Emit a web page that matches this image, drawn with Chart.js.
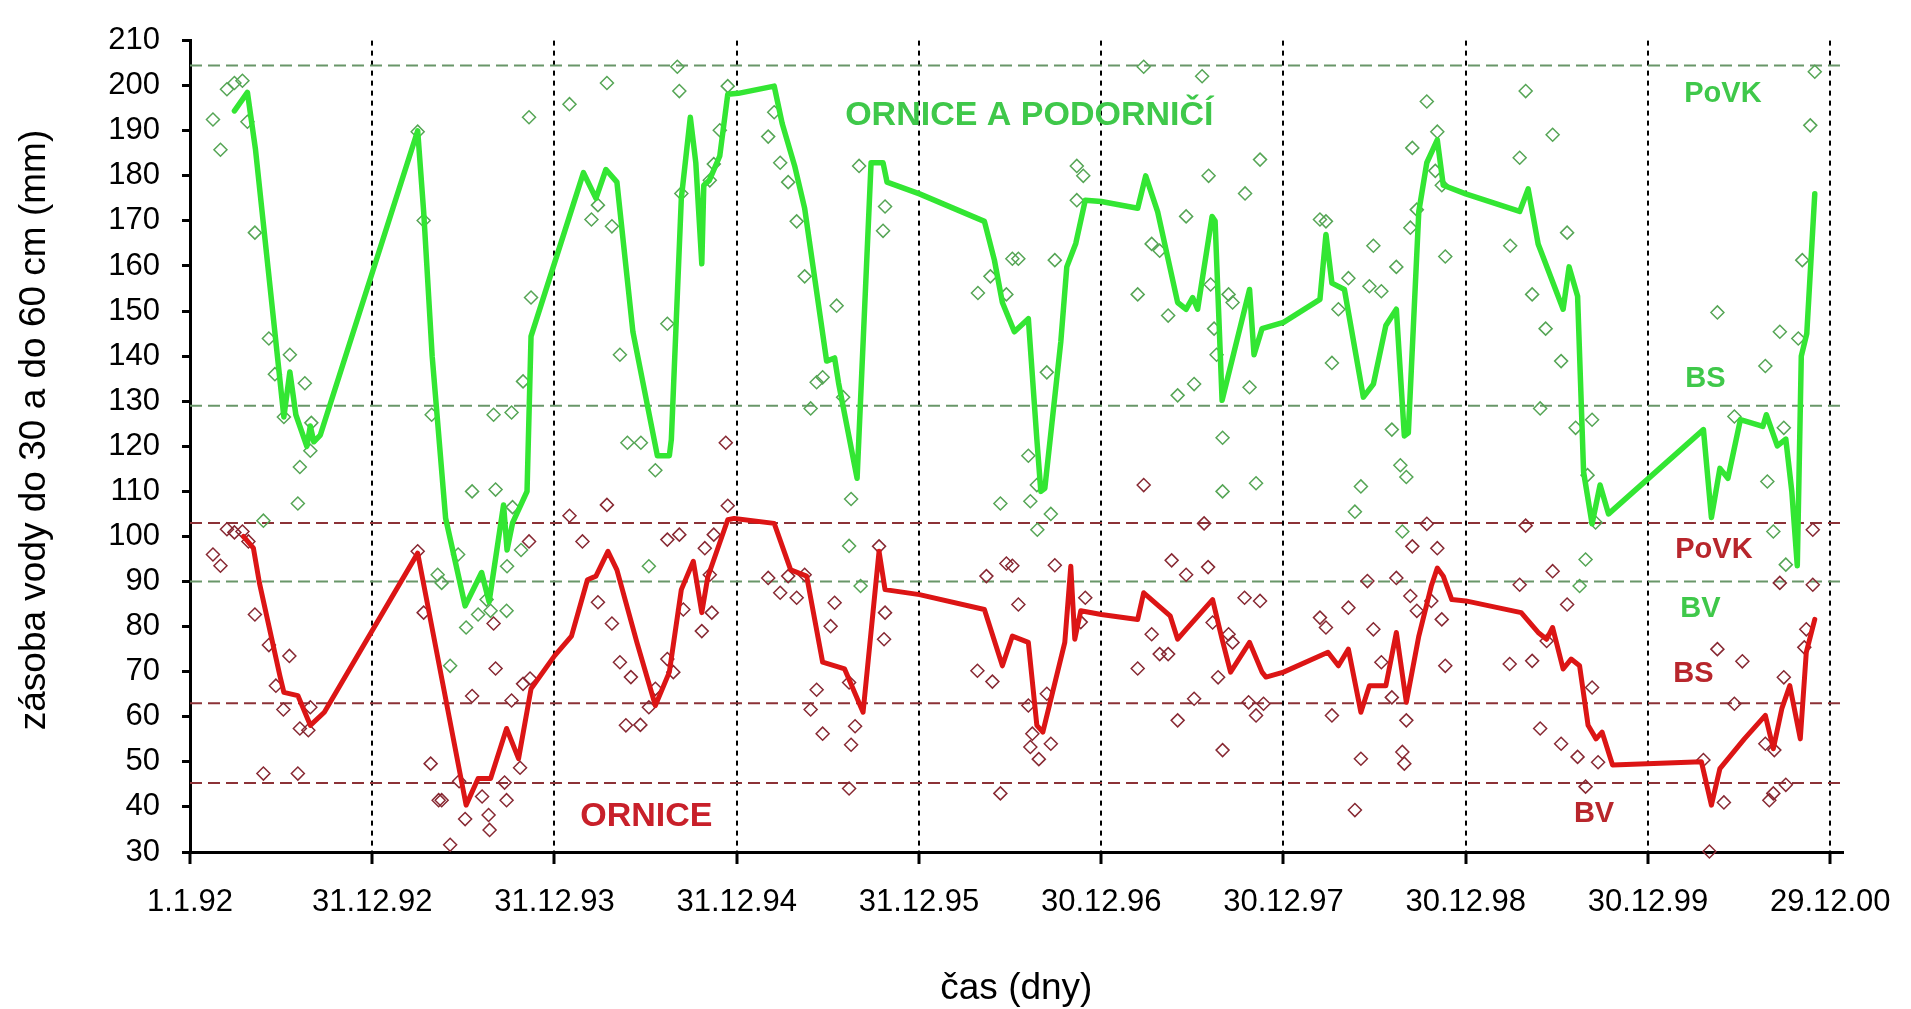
<!DOCTYPE html>
<html lang="cs">
<head>
<meta charset="utf-8">
<title>Zásoba vody v ornici a podorničí 1992–2000</title>
<script src="https://cdn.jsdelivr.net/npm/chart.js@4.4.1/dist/chart.umd.min.js"></script>
<style>
  html, body { margin: 0; padding: 0; background: #fff; overflow: hidden; }
  #wrap { width: 1911px; height: 1009px; }
</style>
</head>
<body>
<div id="wrap"><canvas id="chart" width="1911" height="1009"></canvas></div>
<script>
// Time axis: days counted from 1.1.1992
const tickDays   = [0, 365, 730, 1095, 1460, 1825, 2190, 2555, 2920, 3285];
const tickLabels = ['1.1.92', '31.12.92', '31.12.93', '31.12.94', '31.12.95',
                    '30.12.96', '30.12.97', '30.12.98', '30.12.99', '29.12.00'];

// Modelled water storage, topsoil + subsoil (0–60 cm)
const greenLineDays = [
  89, 115, 131, 188, 200, 212, 234, 241, 248, 261,
  456, 468, 485, 512, 551, 584, 599, 628, 635, 646, 675, 683,
  788, 813, 833, 855, 887, 936, 960, 964, 984, 1002, 1013, 1025, 1029, 1040, 1061, 1077,
  1098, 1170, 1186, 1211, 1231, 1275, 1291, 1299, 1336, 1364, 1388, 1396,
  1461, 1591, 1611, 1627, 1651, 1679, 1696, 1704, 1712, 1744, 1756, 1774, 1793,
  1825, 1898, 1914, 1938, 1978, 1995, 2008, 2018, 2047, 2053, 2067, 2122, 2131, 2147,
  2190, 2263, 2275, 2287, 2312, 2350, 2370, 2395, 2416, 2432, 2440, 2461, 2477, 2498, 2510,
  2555, 2663, 2680, 2700, 2750, 2762, 2779, 2791, 2808, 2824, 2841,
  3031, 3047, 3064, 3080, 3105, 3150, 3157, 3179, 3196, 3208, 3219, 3227, 3238, 3254
];
const greenLineValues = [
  194.4, 198.5, 186, 126.5, 136.5, 127, 120, 124.5, 121, 122.5,
  190, 172, 140, 104, 84.6, 92, 85.5, 107, 97, 103, 110, 144.4,
  180.7, 175, 181.4, 178.6, 145.4, 117.9, 117.9, 121.5, 175, 193, 182.9, 160.5, 177.9, 179, 184.4, 198.1,
  198.3, 199.9, 191.6, 182.2, 172.8, 138.9, 139.6, 134, 112.9, 182.9, 182.9, 178.6,
  176, 169.9, 161.3, 151.9, 145.4, 148.3, 121.6, 110, 110.7, 143.2, 159.8, 165, 174.6,
  174.3, 172.8, 180, 172, 151.9, 150.4, 153, 150.4, 171, 170, 130.2, 154.8, 140.3, 146.1,
  147.5, 152.6, 167, 156.2, 154.8, 130.9, 133.8, 146.8, 150.4, 122.3, 123, 172.1, 182.9, 188, 177.9,
  176, 172.1, 177.1, 164.9, 150.4, 159.8, 153.3, 114.3, 102.8, 111.4, 105,
  123.7, 104.2, 115.1, 112.9, 125.9, 124.4, 127, 120.1, 121.6, 110, 93.5, 140, 145, 176
];

// Modelled water storage, topsoil only (0–30 cm)
const redLineDays = [
  107, 127, 139, 180, 188, 216, 241, 269,
  456, 553, 577, 602, 634, 658, 683,
  730, 764, 796, 813, 837, 855, 895, 932, 960, 984, 1008, 1025, 1037, 1077, 1090,
  1170, 1203, 1235, 1267, 1311, 1348, 1380, 1392,
  1461, 1591, 1627, 1647, 1679, 1696, 1708, 1752, 1764, 1772, 1784,
  1825, 1898, 1910, 1963, 1978, 1995, 2048, 2067, 2084, 2122, 2147, 2155,
  2190, 2279, 2300, 2320, 2345, 2362, 2395, 2416, 2436, 2461, 2486, 2498, 2510, 2527,
  2555, 2666, 2700, 2717, 2729, 2750, 2766, 2783, 2800, 2816, 2828, 2849,
  3027, 3047, 3064, 3113, 3155, 3171, 3188, 3204, 3225, 3237, 3254
];
const redLineValues = [
  100, 97.4, 89.7, 69.1, 65.4, 64.7, 58.1, 61,
  96.3, 40.4, 46.3, 46.3, 57.4, 50.7, 66.2,
  73.5, 77.9, 90.4, 91.2, 96.7, 92.6, 76.5, 62.5, 69.9, 88.2, 94.5, 83.1, 91, 103.7, 104,
  102.9, 92.6, 91.2, 72.1, 70.6, 61, 96.7, 88.2,
  87.1, 83.8, 71.3, 77.9, 76.5, 58.1, 56.6, 76.5, 93.4, 77.2, 83.5,
  82.7, 81.6, 87.5, 82.4, 77.2, 79.4, 86, 77.2, 69.9, 76.5, 69.9, 68.8,
  69.9, 74.3, 71.3, 75, 61, 66.9, 66.9, 78.7, 63.2, 77.9, 89, 93, 91.2, 86,
  85.7, 83.1, 78.7, 77.2, 79.8, 70.6, 72.8, 71.3, 58.1, 55.1, 56.6, 49.3,
  50, 40.4, 48.5, 55.1, 60.3, 52.9, 61.8, 66.9, 55.1, 74.3, 81.6
];

// Measured storage, 0–60 cm
const greenPointDays = [
  46, 61, 74, 89, 105, 115, 130, 147, 158, 170, 188, 200, 216, 220, 230, 241, 243,
  456, 468, 484, 496, 504, 521, 537, 553, 565, 577, 594, 602, 608, 612, 634, 635, 644, 646, 663, 667, 679, 683,
  760, 804, 817, 835, 845, 861, 876, 903, 919, 932, 956, 976, 980, 984, 1041, 1049, 1061, 1077,
  1158, 1170, 1182, 1198, 1215, 1231, 1243, 1255, 1267, 1295, 1308, 1320, 1324, 1340, 1343, 1388, 1392,
  1578, 1603, 1623, 1635, 1647, 1659, 1679, 1683, 1696, 1697, 1716, 1724, 1732, 1776, 1776, 1789,
  1898, 1910, 1926, 1942, 1959, 1978, 1995, 2011, 2027, 2040, 2044, 2051, 2056, 2068, 2068, 2080, 2088, 2113,
  2122, 2135, 2143, 2263, 2275, 2287, 2300, 2320, 2333, 2345, 2362, 2370, 2386, 2407, 2416, 2424, 2428,
  2436, 2444, 2448, 2457, 2477, 2494, 2498, 2507, 2514,
  2644, 2663, 2675, 2688, 2704, 2715, 2729, 2746, 2758, 2775, 2783, 2795, 2799, 2808, 2815,
  3059, 3093, 3155, 3159, 3171, 3184, 3192, 3196, 3221, 3229, 3245, 3254
];
const greenPointValues = [
  192.5, 185.8, 199.2, 200.6, 201.1, 192, 167.4, 103.5, 143.9, 136, 126.5, 140.3, 107.3, 115.4, 134, 119, 125.2,
  189.8, 170.1, 127, 91.5, 89.7, 71.3, 96, 79.8, 110, 82.7, 86, 83.5, 127, 110.4, 83.5, 93.4, 127.5, 106.5, 97, 134.4, 193, 153,
  195.9, 170.3, 173.5, 200.6, 168.8, 140.3, 120.8, 120.8, 93.4, 114.7, 147.2, 204.2, 198.8, 176.1, 179, 182.6, 190.1, 199.9,
  188.7, 194.1, 182.9, 178.6, 169.9, 157.7, 128.4, 134.2, 135.3, 151.2, 130.9, 97.9, 108.3, 182.2, 89, 167.8, 173.2,
  154, 157.7, 107.3, 153.7, 161.6, 161.6, 117.9, 107.8, 111.4, 101.5, 136.4, 105, 161.3, 182.2, 174.6, 180,
  153.7, 204.2, 164.9, 163.4, 149, 131.3, 171, 133.8, 202.1, 180, 155.9, 146.1, 140.3, 121.9, 110, 153.7, 151.9, 176.1,
  133.1, 111.8, 183.6, 170.3, 169.9, 138.5, 150.4, 157.3, 105.5, 111.1, 155.5, 164.5, 154.4, 123.7, 159.8, 115.8, 101.1,
  113.2, 168.5, 186.2, 172.5, 196.5, 181.1, 189.8, 177.9, 162.1,
  164.5, 184, 198.8, 153.7, 128.4, 146.1, 189.1, 138.9, 167.4, 124.1, 89, 94.9, 113.6, 125.9, 103.1,
  149.7, 126.6, 137.8, 112.2, 101.1, 145.4, 124.1, 93.75, 143.9, 161.3, 191.2, 203.1
];

// Measured storage, 0–30 cm
const redPointDays = [
  46, 61, 74, 89, 105, 117, 130, 147, 158, 172, 187, 199, 216, 220, 237, 241,
  456, 468, 482, 498, 504, 521, 539, 551, 565, 585, 598, 600, 608, 612, 630, 634, 644, 661, 667, 679, 681,
  760, 786, 817, 835, 845, 861, 873, 883, 902, 919, 932, 956, 956, 968, 980, 988, 1025, 1031, 1041, 1045, 1049, 1073, 1077,
  1158, 1182, 1198, 1215, 1231, 1243, 1255, 1267, 1283, 1291, 1320, 1320, 1324, 1332, 1380, 1390, 1392,
  1577, 1595, 1607, 1623, 1635, 1647, 1659, 1679, 1683, 1687, 1700, 1716, 1724, 1732, 1784, 1793,
  1898, 1910, 1926, 1942, 1959, 1966, 1978, 1995, 2011, 2031, 2039, 2048, 2059, 2068, 2080, 2088, 2112, 2120,
  2135, 2143, 2150, 2263, 2275, 2287, 2320, 2333, 2345, 2358, 2370, 2386, 2407, 2416, 2428, 2432, 2436,
  2444, 2448, 2457, 2477, 2486, 2498, 2507, 2514,
  2643, 2663, 2675, 2688, 2704, 2717, 2729, 2746, 2758, 2779, 2795, 2808, 2820,
  3031, 3043, 3059, 3072, 3093, 3109, 3155, 3163, 3171, 3173, 3184, 3192, 3196, 3233, 3237, 3250, 3250
];
const redPointValues = [
  96, 93.5, 101.6, 100.9, 101.1, 98.9, 82.7, 47.4, 75.9, 66.9, 61.6, 73.5, 47.4, 57.4, 57, 62.1,
  96.7, 83.1, 49.6, 41.5, 41.5, 31.6, 45.7, 37.3, 64.6, 42.3, 38.2, 34.9, 80.7, 70.7, 45.4, 41.5, 63.6, 48.7, 67.3, 98.9, 68.5,
  104.6, 98.9, 85.4, 107, 80.7, 72.1, 58.1, 68.8, 58.2, 62.1, 66.2, 72.8, 99.3, 69.9, 100.4, 83.8, 79, 97.4, 91.5, 83.1, 100.4, 120.8, 106.8,
  90.8, 87.5, 91.2, 86.4, 91.5, 61.6, 66, 56.25, 80.1, 85.3, 67.6, 44.1, 53.8, 57.9, 97.8, 77.2, 83.1,
  70.2, 91.2, 67.8, 43, 94, 93.5, 84.9, 62.5, 53.3, 56.25, 50.6, 65.1, 54, 93.6, 81, 86.4,
  70.7, 111.4, 78.3, 73.9, 73.9, 94.7, 59.2, 91.5, 64, 102.9, 93.2, 80.9, 68.75, 52.6, 78.3, 76.5, 86.4, 63.2,
  60.3, 85.7, 62.9, 82, 79.8, 60.3, 84.2, 39.3, 50.7, 90.1, 79.4, 72.1, 64.3, 90.8, 52.2, 49.6, 59.2,
  86.8, 97.8, 83.5, 102.8, 85.7, 97.4, 81.6, 71.3,
  71.7, 89.3, 102.4, 72.4, 57.4, 76.8, 92.3, 54, 84.9, 51.1, 44.5, 66.5, 49.9,
  50.4, 30.1, 75, 41, 62.9, 72.3, 54, 41.5, 43, 52.6, 89.7, 68.75, 44.9, 75.4, 79.4, 89.3, 101.5
];

// Hydrolimits (mm): PoVK, BS, BV
const levelNames       = ['PoVK', 'BS', 'BV'];
const greenLevelValues = [204.5, 129, 90];
const redLevelValues   = [103, 63, 45.3];

const X_MIN = 0, X_MAX = 3310, Y_MIN = 30, Y_MAX = 210;

const GREEN_LINE = '#33e633';
const RED_LINE = '#dc1515';
const GREEN_MARK = 'rgb(85,165,85)';
const RED_MARK = 'rgb(135,40,50)';
const GREEN_LEVEL = 'rgb(105,150,105)';
const RED_LEVEL = 'rgb(140,50,55)';
const GREEN_TEXT = '#3fc84a';
const RED_TEXT = '#c8202a';
const FONT = '"Liberation Sans", Arial, Helvetica, sans-serif';

const pts = (xs, ys) => xs.map((d, i) => ({ x: d, y: ys[i] }));
const level = v => [{ x: X_MIN, y: v }, { x: X_MAX, y: v }];

// In-plot captions, anchored in data coordinates
const captions = [
  { text: 'ORNICE A PODORNIČÍ', day: 1681, value: 193.4, color: GREEN_TEXT, font: 'bold 34px ' + FONT },
  { text: 'ORNICE', day: 914, value: 37.9, color: RED_TEXT, font: 'bold 34px ' + FONT },
  { text: levelNames[0], day: 3070, value: 198.2, color: GREEN_TEXT, font: 'bold 29px ' + FONT },
  { text: levelNames[1], day: 3035, value: 135, color: GREEN_TEXT, font: 'bold 29px ' + FONT },
  { text: levelNames[2], day: 3025, value: 84, color: GREEN_TEXT, font: 'bold 29px ' + FONT },
  { text: levelNames[0], day: 3052, value: 96.9, color: '#b8262c', font: 'bold 29px ' + FONT },
  { text: levelNames[1], day: 3011, value: 69.4, color: '#b8262c', font: 'bold 29px ' + FONT },
  { text: levelNames[2], day: 2812, value: 38.5, color: '#b8262c', font: 'bold 29px ' + FONT }
];

const textPlugin = {
  id: 'plotTexts',
  afterDatasetsDraw(chart) {
    const { ctx, scales: { x, y }, chartArea } = chart;
    ctx.save();
    ctx.textAlign = 'center';
    ctx.textBaseline = 'middle';
    captions.forEach(c => {
      ctx.font = c.font;
      ctx.fillStyle = c.color;
      ctx.fillText(c.text, x.getPixelForValue(c.day), y.getPixelForValue(c.value));
    });
    // axis titles
    ctx.fillStyle = '#000';
    ctx.font = '37px ' + FONT;
    ctx.fillText('čas (dny)', (chartArea.left + chartArea.right) / 2, 989);
    ctx.translate(35, 430);
    ctx.rotate(-Math.PI / 2);
    ctx.fillText('zásoba vody do 30 a do 60 cm (mm)', 0, 0);
    ctx.restore();
  }
};

const lineStyle = (color, width) => ({
  borderColor: color, borderWidth: width, pointRadius: 0, tension: 0,
  borderJoinStyle: 'round', borderCapStyle: 'round', fill: false
});
const markStyle = color => ({
  showLine: false, pointStyle: 'rectRot', pointRadius: 6.5, pointBorderWidth: 1.5,
  pointBorderColor: color, pointBackgroundColor: 'rgba(0,0,0,0)', clip: false
});
const levelStyle = color => ({
  borderColor: color, borderWidth: 2, borderDash: [12, 6], pointRadius: 0, fill: false
});

new Chart(document.getElementById('chart'), {
  type: 'line',
  data: {
    datasets: [
      { label: 'ornice', data: pts(redLineDays, redLineValues), ...lineStyle(RED_LINE, 5) },
      { label: 'ornice a podorničí', data: pts(greenLineDays, greenLineValues), ...lineStyle(GREEN_LINE, 5.5) },
      { label: 'ornice – měření', data: pts(redPointDays, redPointValues), ...markStyle(RED_MARK) },
      { label: 'ornice a podorničí – měření', data: pts(greenPointDays, greenPointValues), ...markStyle(GREEN_MARK) },
      ...greenLevelValues.map((v, i) => ({ label: levelNames[i], data: level(v), ...levelStyle(GREEN_LEVEL) })),
      ...redLevelValues.map((v, i) => ({ label: levelNames[i], data: level(v), ...levelStyle(RED_LEVEL) }))
    ]
  },
  options: {
    responsive: false,
    devicePixelRatio: 1,
    animation: false,
    events: [],
    layout: { padding: { left: 0, top: 29, right: 55, bottom: 0 } },
    plugins: { legend: { display: false }, tooltip: { enabled: false } },
    scales: {
      x: {
        type: 'linear',
        position: 'bottom',
        min: X_MIN,
        max: X_MAX,
        afterBuildTicks: scale => { scale.ticks = tickDays.map(v => ({ value: v })); },
        afterFit: scale => { scale.height = 157; },
        ticks: {
          autoSkip: false, maxRotation: 0, minRotation: 0, padding: 20,
          color: '#000', font: { family: FONT, size: 31 },
          callback: v => { const i = tickDays.indexOf(v); return i >= 0 ? tickLabels[i] : ''; }
        },
        grid: {
          display: true, drawOnChartArea: true, color: '#000', lineWidth: 2,
          tickLength: 12, tickWidth: 3, tickColor: '#000', tickBorderDash: []
        },
        border: { display: true, color: '#000', width: 3, dash: [5, 5] }
      },
      y: {
        type: 'linear',
        min: Y_MIN,
        max: Y_MAX,
        afterFit: scale => { scale.width = 190; },
        ticks: {
          stepSize: 10, padding: 22, color: '#000',
          font: { family: FONT, size: 31 }
        },
        grid: {
          display: true, drawOnChartArea: false, tickLength: 8,
          tickWidth: 3, tickColor: '#000', color: '#000'
        },
        border: { display: true, color: '#000', width: 3 }
      }
    }
  },
  plugins: [textPlugin]
});
</script>
</body>
</html>
